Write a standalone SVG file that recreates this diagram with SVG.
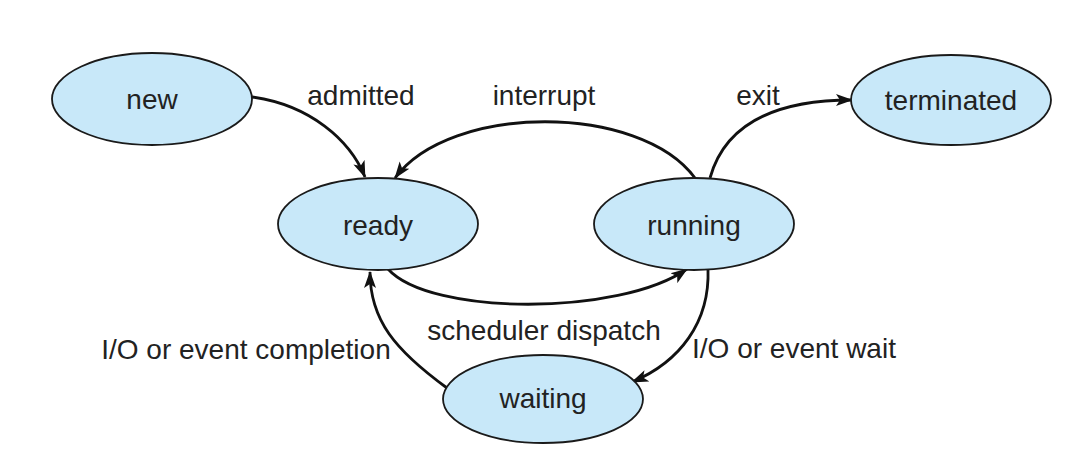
<svg xmlns="http://www.w3.org/2000/svg" width="1079" height="471" viewBox="0 0 1079 471">
<style>
.node ellipse{fill:#c8e8f9;stroke:#1a1a1a;stroke-width:1.8}
text{font-family:"Liberation Sans",Arial,sans-serif;font-size:28px;fill:#222;text-anchor:middle}
.edge{fill:none;stroke:#111;stroke-width:2.8;marker-end:url(#arr)}
</style>
<defs>
<marker id="arr" markerUnits="userSpaceOnUse" markerWidth="18" markerHeight="14" refX="16" refY="6" orient="auto" viewBox="0 0 18 12">
<path d="M0,0 L17,6 L0,12 L4,6 z" fill="#111"/>
</marker>
</defs>
<rect width="1079" height="471" fill="#fff"/>
<g id="connectors">
<path class="edge" d="M252,97 C310,105 350,140 365,177"/>
<path class="edge" d="M695,178 C640,103 450,103 395,178"/>
<path class="edge" d="M710,178 C722,135 760,100 852,100"/>
<path class="edge" d="M388,269 C430,316 620,316 687,269"/>
<path class="edge" d="M708,269 C710,322 680,362 632,382"/>
<path class="edge" d="M447,388 C395,350 370,320 370,272"/>
<text x="361" y="105">admitted</text>
<text x="544" y="105">interrupt</text>
<text x="758" y="105">exit</text>
<text x="544" y="340">scheduler dispatch</text>
<text x="246" y="359">I/O or event completion</text>
<text x="794" y="358">I/O or event wait</text>
</g>
<g id="new" class="node"><ellipse cx="152" cy="99" rx="100" ry="46"/><text x="152" y="109">new</text></g>
<g id="terminated" class="node"><ellipse cx="951" cy="100" rx="100" ry="45"/><text x="951" y="110">terminated</text></g>
<g id="ready" class="node"><ellipse cx="378" cy="224" rx="100" ry="46"/><text x="378" y="235">ready</text></g>
<g id="running" class="node"><ellipse cx="694" cy="224" rx="100" ry="46"/><text x="694" y="235">running</text></g>
<g id="waiting" class="node"><ellipse cx="543" cy="399" rx="100" ry="44"/><text x="543" y="408">waiting</text></g>
</svg>
